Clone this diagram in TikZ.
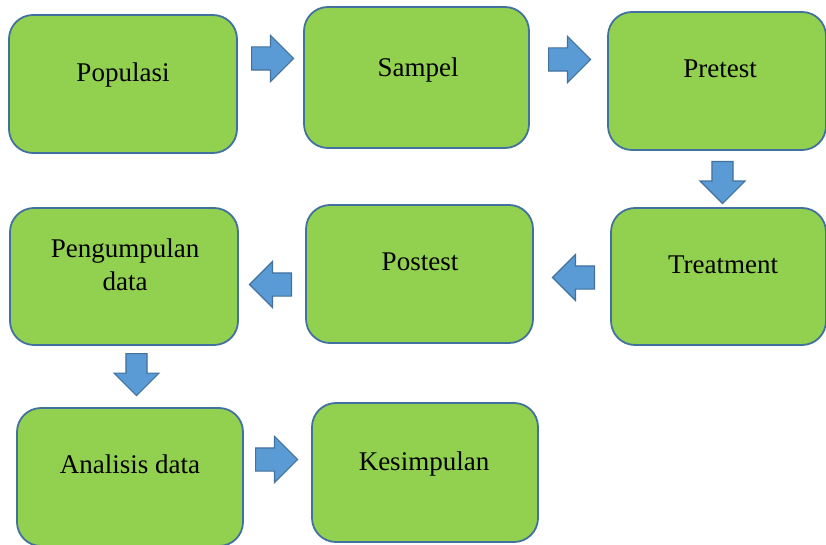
\documentclass[tikz,border=0pt]{standalone}
\usepackage{fontspec}
\setmainfont{Liberation Serif}
\usetikzlibrary{shapes.arrows}
\definecolor{boxgreen}{HTML}{92D050}
\definecolor{boxline}{HTML}{41719C}
\definecolor{arrowblue}{HTML}{5B9BD5}
\begin{document}
\begin{tikzpicture}[x=1pt,y=-1pt,
  box/.style={draw=boxline, fill=boxgreen, line width=1.8pt, rounded corners=24pt, inner sep=0pt},
  lbl/.style={anchor=base, font=\fontsize{27}{33}\selectfont, align=center, inner sep=0pt},
  blockarrow/.style={single arrow, draw=boxline, fill=arrowblue, line width=1.2pt, inner xsep=9.5pt, inner ysep=11pt,
    minimum width=45pt, minimum height=42pt, single arrow head extend=11.5pt, single arrow head indent=0pt, anchor=tail}]
\useasboundingbox (0,0) rectangle (826,545);
% boxes
\node[box, minimum width=228pt, minimum height=138pt] (pop) at (123,84) {};
\node[box, minimum width=225pt, minimum height=141pt] (sam) at (416.5,77.5) {};
\node[box, minimum width=218pt, minimum height=138pt] (pre) at (717,81) {};
\node[box, minimum width=215pt, minimum height=137pt] (tre) at (718.5,276.5) {};
\node[box, minimum width=227pt, minimum height=138pt] (pos) at (419.5,274) {};
\node[box, minimum width=228pt, minimum height=137pt] (pen) at (124,276.5) {};
\node[box, minimum width=226pt, minimum height=138pt] (ana) at (130,477) {};
\node[box, minimum width=226pt, minimum height=139pt] (kes) at (425,472.5) {};
% labels
\node[lbl] (tpop) at (123,82) {Populasi};
\node[lbl] (tsam) at (418,77) {Sampel};
\node[lbl] (tpre) at (720,78) {Pretest};
\node[lbl] (ttre) at (723,273) {Treatment};
\node[lbl] (tpos) at (420,270) {Postest};
\node[lbl] (tpen1) at (125,257) {Pengumpulan};
\node[lbl] (tpen2) at (125,290) {data};
\node[lbl] (tana) at (130,473) {Analisis data};
\node[lbl] (tkes) at (424,470) {Kesimpulan};
% block arrows
\node[blockarrow] (a1) at (251,58.5) {};
\node[blockarrow] (a2) at (548,59.5) {};
\node[blockarrow, shape border rotate=270] (a3) at (722.5,161) {};
\node[blockarrow, shape border rotate=180] (a4) at (595,277.5) {};
\node[blockarrow, shape border rotate=180] (a5) at (292,284.5) {};
\node[blockarrow, shape border rotate=270] (a6) at (136.5,353) {};
\node[blockarrow] (a7) at (255,459.5) {};
\end{tikzpicture}
\end{document}
